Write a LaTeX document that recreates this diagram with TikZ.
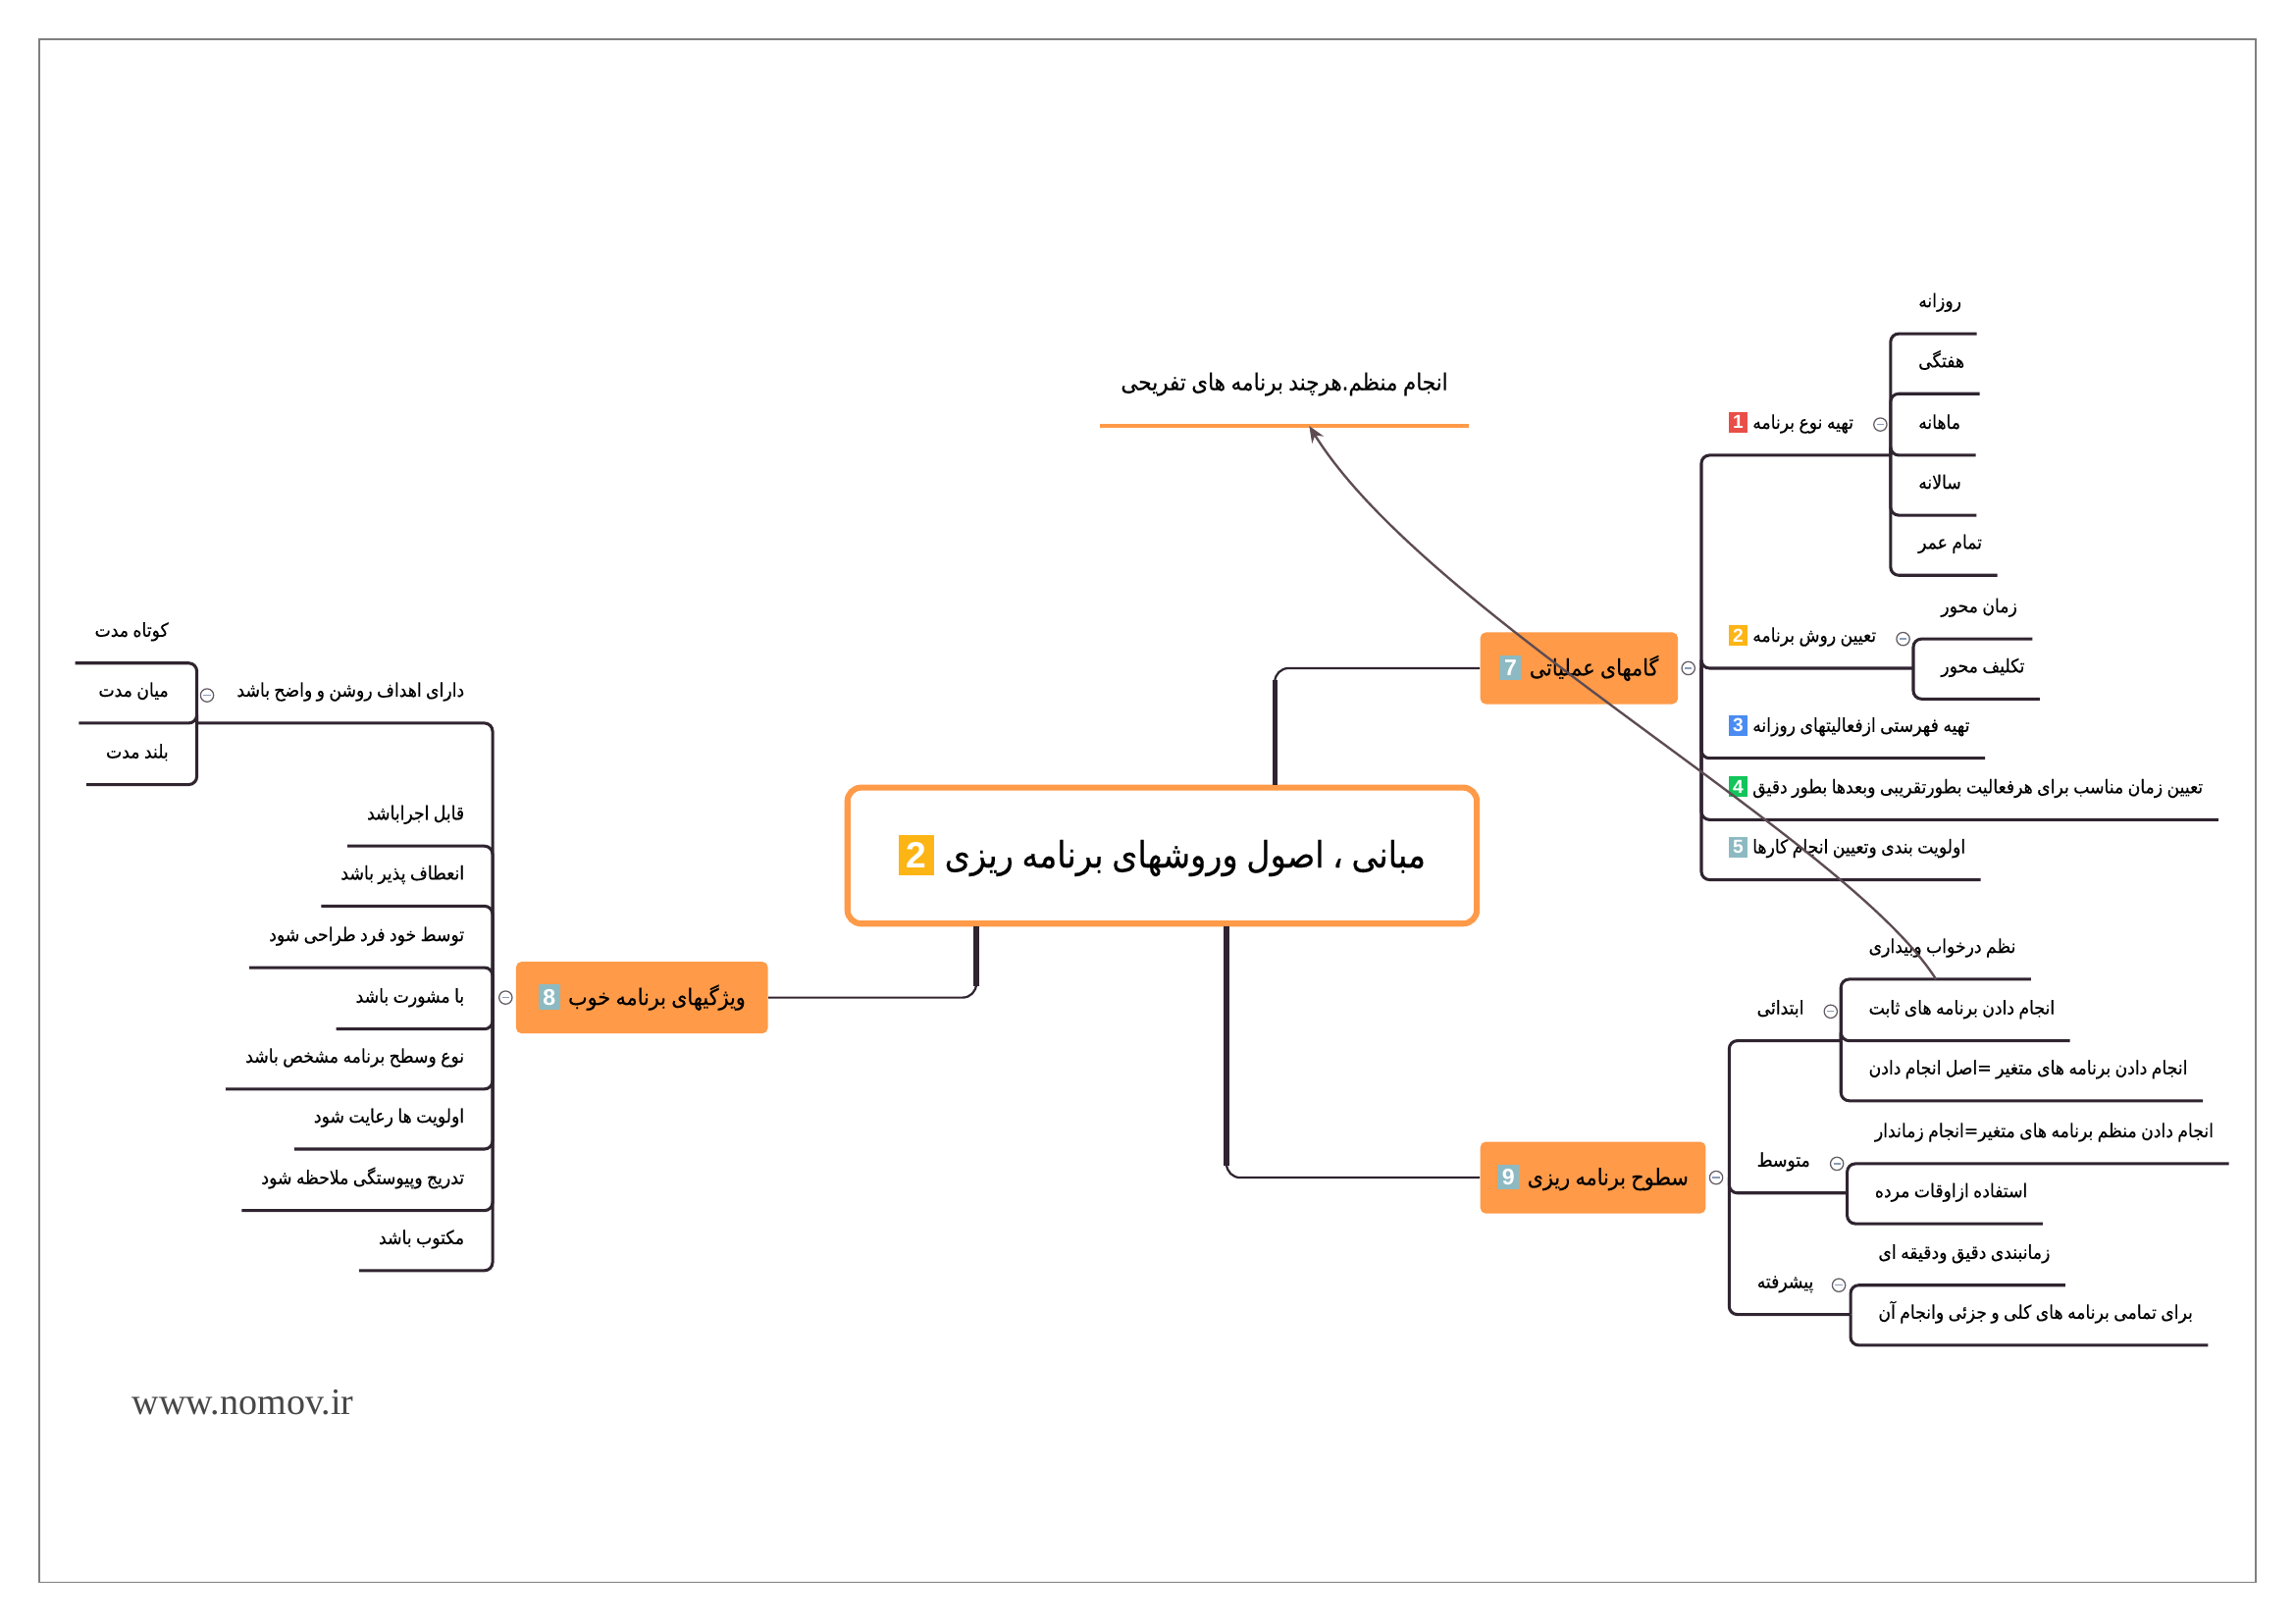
\documentclass[tikz,border=0pt]{standalone}
\usepackage{fontspec}
\setmainfont{Liberation Serif}
\setsansfont{Liberation Sans}
\newfontfamily\fa[Script=Arabic,WordSpace=0.8,FakeStretch=0.9,FakeBold=0.3]{DejaVu Sans}
\TeXXeTstate=1
\usetikzlibrary{arrows.meta,calc,positioning}
\definecolor{ink}{HTML}{2F2430}
\definecolor{topicc}{HTML}{FF9A48}
\definecolor{relc}{HTML}{5E4C52}
\definecolor{framec}{HTML}{7F7F7F}
\definecolor{webc}{HTML}{474747}
\definecolor{foldc}{HTML}{8A9BB8}
\definecolor{bred}{HTML}{EA4E48}
\definecolor{bamber}{HTML}{FDB515}
\definecolor{bblue}{HTML}{4A8CF2}
\definecolor{bgreen}{HTML}{12C55A}
\definecolor{bteal}{HTML}{8DBAC2}
\newlength\ux
\setlength\ux{0.537pt}
\newcommand\fatxt[1]{{\fa\beginR #1\endR}}
\newcommand\numbadge[2]{{\setlength\fboxsep{0.2em}\colorbox{#1}{\textcolor{white}{\sffamily\bfseries #2}}}}
\tikzset{
  root/.style={draw=topicc,line width=2.2pt,fill=white,rounded corners=5pt,
    minimum width=230.9pt,minimum height=49.9pt,font=\fontsize{13.4}{15}\selectfont},
  topic/.style={fill=topicc,rounded corners=2pt,minimum height=26.3pt,inner xsep=4pt,
    font=\fontsize{8.3}{10}\selectfont},
  lbl/.style={inner ysep=5pt,text height=7pt,text depth=4.5pt,font=\fontsize{6.9}{8}\selectfont},
  leaf/.style={lbl,anchor=south west,inner xsep=5.4pt,execute at begin node=\hspace*{4.6pt}},
  hub/.style={leaf,execute at end node=\hspace*{8pt}},
  lleaf/.style={lbl,anchor=south east,inner xsep=7pt,execute at end node=\hspace*{3.2pt}},
  lhub/.style={lleaf,execute at begin node=\hspace*{7.5pt}},
  fold/.style={circle,draw=ink!75,fill=white,line width=0.45pt,minimum size=4.8pt,inner sep=0pt,
    path picture={\draw[foldc,line width=0.5pt]
      ([xshift=-1.3pt]path picture bounding box.center) -- ([xshift=1.3pt]path picture bounding box.center);}},
  stem/.style={ink,line width=0.8pt,rounded corners=5pt},
  stembold/.style={ink,line width=2pt},
  branch/.style={ink,line width=1.1pt,rounded corners=3pt},
  rel/.style={relc,line width=0.85pt,-{Stealth[length=6pt,width=5pt]}},
  float/.style={anchor=south,minimum width=134.8pt,inner ysep=8.9pt,text depth=4pt,
    font=\fontsize{8.6}{10}\selectfont},
  floatline/.style={topicc,line width=1.4pt},
  web/.style={font=\fontsize{13.7}{16}\selectfont,text=webc},
}
\begin{document}
\begin{tikzpicture}[x=\ux,y=-\ux]
  \useasboundingbox (0,0) rectangle (1568,1109);
  \draw[framec,line width=0.6pt] (27,27) rectangle (1541,1081);
  % ===================== central topic =====================
  \node[root] (root) at (794,584.5)
    {\numbadge{bamber}{2}\hspace{4pt}\fatxt{مبانی ، اصول وروشهای برنامه ریزی}};
  \node[topic,anchor=west,minimum width=72.5pt] (n7) at (1011,456.5)
    {\numbadge{bteal}{7}\hspace{3pt}\fatxt{گامهای عملیاتی}};
  \node[topic,anchor=east,minimum width=92.4pt] (n8) at (525,681.5)
    {\numbadge{bteal}{8}\hspace{3pt}\fatxt{ویژگیهای برنامه خوب}};
  \node[topic,anchor=west,minimum width=82.7pt] (n9) at (1011,804.5)
    {\numbadge{bteal}{9}\hspace{3pt}\fatxt{سطوح برنامه ریزی}};
  \coordinate (s7) at ($(root.north)+(77,0)$);
  \coordinate (s8) at ($(root.south)+(-127,0)$);
  \coordinate (s9) at ($(root.south)+(44,0)$);
  \draw[stembold] (s7) -- ($(s7 |- n7.west)+(0,8)$);
  \draw[stembold] (s8) -- ($(s8 |- n8.east)+(0,-8)$);
  \draw[stembold] (s9) -- ($(s9 |- n9.west)+(0,-8)$);
  \draw[stem] (s7) |- (n7.west);
  \draw[stem] (s8) |- (n8.east);
  \draw[stem] (s9) |- (n9.west);
  % ===================== steps (7) =====================
  \node[fold,right=1pt of n7] (m7) {};
  \coordinate (t7) at ($(m7.east)+(4,0)$);
  \node[hub] (c1) at ($(t7)+(0,-145.5)$)
    {\numbadge{bred}{1}\hspace{2pt}\fatxt{تهیه نوع برنامه}};
  \node[hub] (c2) at (t7)
    {\numbadge{bamber}{2}\hspace{2pt}\fatxt{تعیین روش برنامه}};
  \node[leaf] (c3) at ($(t7)+(0,61.5)$)
    {\numbadge{bblue}{3}\hspace{2pt}\fatxt{تهیه فهرستی ازفعالیتهای روزانه}};
  \node[leaf] (c4) at ($(t7)+(0,103.5)$)
    {\numbadge{bgreen}{4}\hspace{2pt}\fatxt{تعیین زمان مناسب برای هرفعالیت بطورتقریبی وبعدها بطور دقیق}};
  \node[leaf] (c5) at ($(t7)+(0,144.5)$)
    {\numbadge{bteal}{5}\hspace{2pt}\fatxt{اولویت بندی وتعیین انجام کارها}};
  \foreach \i in {1,...,5} \draw[branch] (t7) |- (c\i.south east);
  \coordinate (t1) at (c1.south east);
  \node[fold] (f1) at ($(t1)+(-7,-21)$) {};
  \node[leaf] (k1) at ($(t1)+(0,-83)$) {\fatxt{روزانه}};
  \node[leaf] (k2) at ($(t1)+(0,-42)$) {\fatxt{هفتگی}};
  \node[leaf] (k3) at (t1) {\fatxt{ماهانه}};
  \node[leaf] (k4) at ($(t1)+(0,41)$) {\fatxt{سالانه}};
  \node[leaf] (k5) at ($(t1)+(0,82)$) {\fatxt{تمام عمر}};
  \foreach \i in {1,...,5} \draw[branch] (t1) |- (k\i.south east);
  \coordinate (t2) at (c2.south east);
  \node[fold] (f2) at ($(t2)+(-7,-20)$) {};
  \node[leaf] (z1) at ($(t2)+(0,-20)$) {\fatxt{زمان محور}};
  \node[leaf] (z2) at ($(t2)+(0,21)$) {\fatxt{تکلیف محور}};
  \foreach \i in {1,2} \draw[branch] (t2) |- (z\i.south east);
  % ===================== levels (9) =====================
  \node[fold,right=1pt of n9] (m9) {};
  \coordinate (t9) at ($(m9.east)+(4,0)$);
  \node[hub] (e1) at ($(t9)+(0,-93.5)$) {\fatxt{ابتدائی}};
  \node[hub] (e2) at ($(t9)+(0,10.5)$) {\fatxt{متوسط}};
  \node[hub] (e3) at ($(t9)+(0,93.5)$) {\fatxt{پیشرفته}};
  \foreach \i in {1,2,3} \draw[branch] (t9) |- (e\i.south east);
  \coordinate (ta) at (e1.south east);
  \node[fold] (fa) at ($(ta)+(-7,-20)$) {};
  \node[leaf] (a1) at ($(ta)+(0,-42)$) {\fatxt{نظم درخواب وبیداری}};
  \node[leaf] (a2) at (ta) {\fatxt{انجام دادن برنامه های ثابت}};
  \node[leaf] (a3) at ($(ta)+(0,41)$) {\fatxt{انجام دادن برنامه های متغیر =اصل انجام دادن}};
  \foreach \i in {1,2,3} \draw[branch] (ta) |- (a\i.south east);
  \coordinate (tb) at (e2.south east);
  \node[fold] (fb) at ($(tb)+(-7,-20)$) {};
  \node[leaf] (b1) at ($(tb)+(0,-20)$) {\fatxt{انجام دادن منظم برنامه های متغیر=انجام زماندار}};
  \node[leaf] (b2) at ($(tb)+(0,21)$) {\fatxt{استفاده ازاوقات مرده}};
  \foreach \i in {1,2} \draw[branch] (tb) |- (b\i.south east);
  \coordinate (tc) at (e3.south east);
  \node[fold] (fc) at ($(tc)+(-8,-20)$) {};
  \node[leaf] (d1) at ($(tc)+(0,-20)$) {\fatxt{زمانبندی دقیق ودقیقه ای}};
  \node[leaf] (d2) at ($(tc)+(0,21)$) {\fatxt{برای تمامی برنامه های کلی و جزئی وانجام آن}};
  \foreach \i in {1,2} \draw[branch] (tc) |- (d\i.south east);
  % ===================== features (8) =====================
  \node[fold,left=1pt of n8] (m8) {};
  \coordinate (t8) at ($(m8.west)+(-4,0)$);
  \node[lhub] (h0) at ($(t8)+(0,-187.5)$) {\fatxt{دارای اهداف روشن و واضح باشد}};
  \node[lleaf] (l1) at ($(t8)+(0,-103.5)$) {\fatxt{قابل اجراباشد}};
  \node[lleaf] (l2) at ($(t8)+(0,-62.5)$) {\fatxt{انعطاف پذیر باشد}};
  \node[lleaf] (l3) at ($(t8)+(0,-20.5)$) {\fatxt{توسط خود فرد طراحی شود}};
  \node[lleaf] (l4) at ($(t8)+(0,21.5)$) {\fatxt{با مشورت باشد}};
  \node[lleaf] (l5) at ($(t8)+(0,62.5)$) {\fatxt{نوع وسطح برنامه مشخص باشد}};
  \node[lleaf] (l6) at ($(t8)+(0,103.5)$) {\fatxt{اولویت ها رعایت شود}};
  \node[lleaf] (l7) at ($(t8)+(0,145.5)$) {\fatxt{تدریج وپیوستگی ملاحظه شود}};
  \node[lleaf] (l8) at ($(t8)+(0,186.5)$) {\fatxt{مکتوب باشد}};
  \draw[branch] (t8) |- (h0.south west);
  \foreach \i in {1,...,8} \draw[branch] (t8) |- (l\i.south west);
  \coordinate (th) at (h0.south west);
  \node[fold] (fh) at ($(th)+(7,-19)$) {};
  \node[lleaf] (g1) at ($(th)+(0,-41)$) {\fatxt{کوتاه مدت}};
  \node[lleaf] (g2) at (th) {\fatxt{میان مدت}};
  \node[lleaf] (g3) at ($(th)+(0,42)$) {\fatxt{بلند مدت}};
  \foreach \i in {1,2,3} \draw[branch] (th) |- (g\i.south west);
  % ===================== floating topic =====================
  \node[float] (fl) at (877.5,291) {\fatxt{انجام منظم.هرچند برنامه های تفریحی}};
  \draw[floatline] (fl.south west) -- (fl.south east);
  \draw[rel] (a1.south) .. controls +(-60,-95) and +(80,129) .. ($(fl.south)+(17,0)$);
  \node[web] (site) at (166,958) {www.nomov.ir};
\end{tikzpicture}
\end{document}
